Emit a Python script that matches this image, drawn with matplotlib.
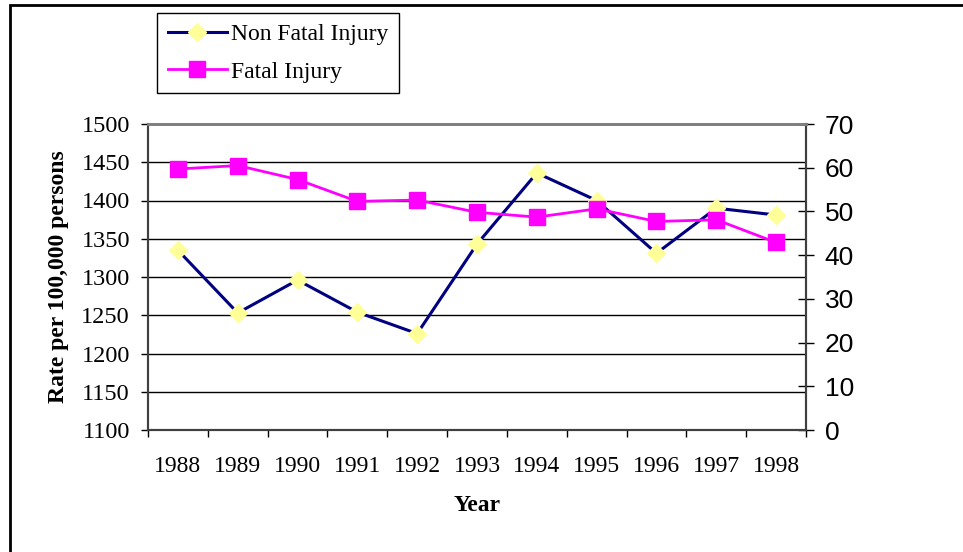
import matplotlib.pyplot as plt
from matplotlib.patches import Rectangle

years = ['1988', '1989', '1990', '1991', '1992', '1993',
         '1994', '1995', '1996', '1997', '1998']
non_fatal = [1335, 1253, 1296, 1254, 1226, 1343, 1436, 1400, 1331, 1390, 1381]
fatal = [59.7, 60.5, 57.3, 52.3, 52.6, 49.8, 48.7, 50.6, 47.7, 48.1, 42.9]

serif = 'Liberation Serif'
sans = 'Liberation Sans'


def main():
    fig = plt.figure(figsize=(9.63, 5.52), dpi=100)
    ax = fig.add_axes([148 / 963, 122 / 552, 658 / 963, 306 / 552])
    ax2 = ax.twinx()

    x = [i + 0.5 for i in range(len(years))]

    # primary axis: non fatal
    ax.plot(x, non_fatal, color='#000080', lw=2.2, marker='D', ms=9,
            mfc='#FFFF99', mec='#FFFF99', zorder=3, label='Non Fatal Injury')
    ax.set_ylim(1100, 1500)
    ax.set_yticks(range(1100, 1501, 50))
    ax.set_xlim(0, len(years))
    ax.set_xticks(range(len(years) + 1))
    ax.set_xticklabels([])
    ax.set_xticks(x, minor=True)
    ax.set_xticklabels(years, minor=True, fontfamily=serif, fontsize=17)
    ax.tick_params(axis='x', which='minor', length=0, pad=19)
    ax.tick_params(axis='x', which='major', direction='out', length=5, width=1, color='black')
    ax.tick_params(axis='y', direction='out', length=5, width=1, color='black', pad=8)
    for lbl in ax.get_yticklabels():
        lbl.set_fontfamily(serif)
        lbl.set_fontsize(17.5)
    ax.grid(axis='y', color='black', lw=1)
    ax.set_axisbelow(True)

    # secondary axis: fatal
    ax2.plot(x, fatal, color='#FF00FF', lw=2, marker='s', ms=11,
             mfc='#FF00FF', mec='#FF00FF', zorder=3, label='Fatal Injury')
    ax2.set_ylim(0, 70)
    ax2.set_yticks(range(0, 71, 10))
    ax2.tick_params(axis='y', direction='inout', length=11, width=1, color='black', pad=8)
    for lbl in ax2.get_yticklabels():
        lbl.set_fontfamily(sans)
        lbl.set_fontsize(19)

    for a in (ax, ax2):
        a.spines['top'].set_color('#808080')
        a.spines['top'].set_linewidth(2)
        for side in ('left', 'bottom', 'right'):
            a.spines[side].set_color('#404040')
            a.spines[side].set_linewidth(1.5)

    ax.set_ylabel('Rate per 100,000 persons', fontfamily=serif, fontsize=17,
                  fontweight='bold')
    ax.yaxis.set_label_coords((69 - 148) / 658, 0.5)
    ax.set_xlabel('Year', fontfamily=serif, fontsize=17, fontweight='bold')
    ax.xaxis.set_label_coords(0.5, (430 - 495) / 306)

    h1, l1 = ax.get_legend_handles_labels()
    h2, l2 = ax2.get_legend_handles_labels()
    leg = fig.legend(h1 + h2, l1 + l2, loc='upper left',
                     bbox_to_anchor=(157 / 963, 1 - 13 / 552),
                     prop={'family': serif, 'size': 17}, frameon=True,
                     fancybox=False, edgecolor='black', framealpha=1,
                     handlelength=2.5, handletextpad=0.2, borderpad=0.45,
                     labelspacing=0.68, borderaxespad=0)
    leg.get_frame().set_linewidth(1)

    # outer chart border
    fig.patches.append(Rectangle((10 / 963, -0.1), 1.1, 1 - 5 / 552 + 0.1,
                                 transform=fig.transFigure, fill=False,
                                 edgecolor='black', lw=2, clip_on=False))

    fig.savefig('out.png', dpi=100)


if __name__ == '__main__':
    main()
